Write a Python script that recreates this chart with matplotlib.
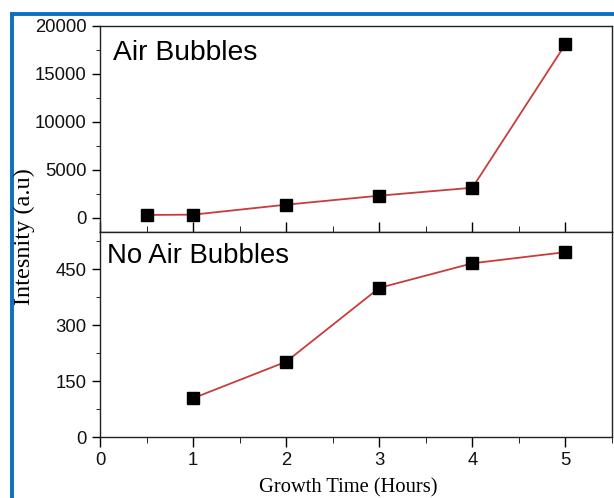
import matplotlib
matplotlib.use("Agg")
import matplotlib.pyplot as plt
from matplotlib.lines import Line2D
from matplotlib.ticker import MultipleLocator

# Data
x_air = [0.5, 1, 2, 3, 4, 5]
y_air = [280, 310, 1350, 2290, 3120, 18100]
x_noair = [1, 2, 3, 4, 5]
y_noair = [104, 202, 400, 466, 496]
top_label = "Air Bubbles"
bottom_label = "No Air Bubbles"
ylabel = "Intesnity (a.u)"
xlabel = "Growth Time (Hours)"

W, H = 614, 498
fig = plt.figure(figsize=(W / 100, H / 100), dpi=100)

L, R = 100 / W, 612 / W
ax1 = fig.add_axes([L, 1 - 232 / H, R - L, (232 - 26) / H])
ax2 = fig.add_axes([L, 1 - 437 / H, R - L, (437 - 232) / H])

line_color = "#c83c3c"
for ax, xs, ys in [(ax1, x_air, y_air), (ax2, x_noair, y_noair)]:
    ax.plot(xs, ys, color=line_color, lw=1.3, marker="s", ms=9,
            mfc="black", mec="black", zorder=3)
    ax.set_xlim(0, 5.5)
    ax.xaxis.set_major_locator(MultipleLocator(1))
    ax.xaxis.set_minor_locator(MultipleLocator(0.5))
    for s in ax.spines.values():
        s.set_linewidth(1.0)
        s.set_color("#222222")

ax1.set_ylim(-1500, 20000)
ax1.yaxis.set_major_locator(MultipleLocator(5000))
ax1.yaxis.set_minor_locator(MultipleLocator(2500))
ax1.tick_params(axis="x", which="both", direction="in", labelbottom=False)
ax1.tick_params(axis="x", which="major", length=7)
ax1.tick_params(axis="x", which="minor", length=4)

ax2.set_ylim(0, 550)
ax2.yaxis.set_major_locator(MultipleLocator(150))
ax2.yaxis.set_minor_locator(MultipleLocator(75))
ax2.tick_params(axis="x", which="both", direction="out")
ax2.tick_params(axis="x", which="major", length=7)
ax2.tick_params(axis="x", which="minor", length=4)

for ax in (ax1, ax2):
    ax.tick_params(axis="y", which="both", direction="out")
    ax.tick_params(axis="y", which="major", length=6)
    ax.tick_params(axis="y", which="minor", length=3)
    ax.tick_params(labelsize=13.3, width=1.0, labelcolor="#111111")
    for lab in ax.get_xticklabels() + ax.get_yticklabels():
        lab.set_fontfamily("Liberation Sans")

ax1.text(13 / 512, 1 - (40 - 26) / 206, top_label, transform=ax1.transAxes,
         fontsize=20.3, family="Liberation Sans", va="top", ha="left")
ax2.text(7 / 512, 1 - (243 - 232) / 205, bottom_label, transform=ax2.transAxes,
         fontsize=19.8, family="Liberation Sans", va="top", ha="left")

fig.text(24.5 / W, 1 - 237 / H, ylabel, rotation=90, family="Liberation Serif",
         fontsize=17.5, ha="center", va="center")
fig.text(348 / W, 1 - 488 / H, xlabel, family="Liberation Serif",
         fontsize=14.8, ha="center", va="center")

blue = "#0b6fc4"
fig.add_artist(Line2D([12 / W, 12 / W], [0, 1 - 14 / H], color=blue, lw=2.8,
                      transform=fig.transFigure))
fig.add_artist(Line2D([12 / W, 1], [1 - 14 / H, 1 - 14 / H], color=blue, lw=2.8,
                      transform=fig.transFigure))

fig.savefig("out.png", dpi=100)
